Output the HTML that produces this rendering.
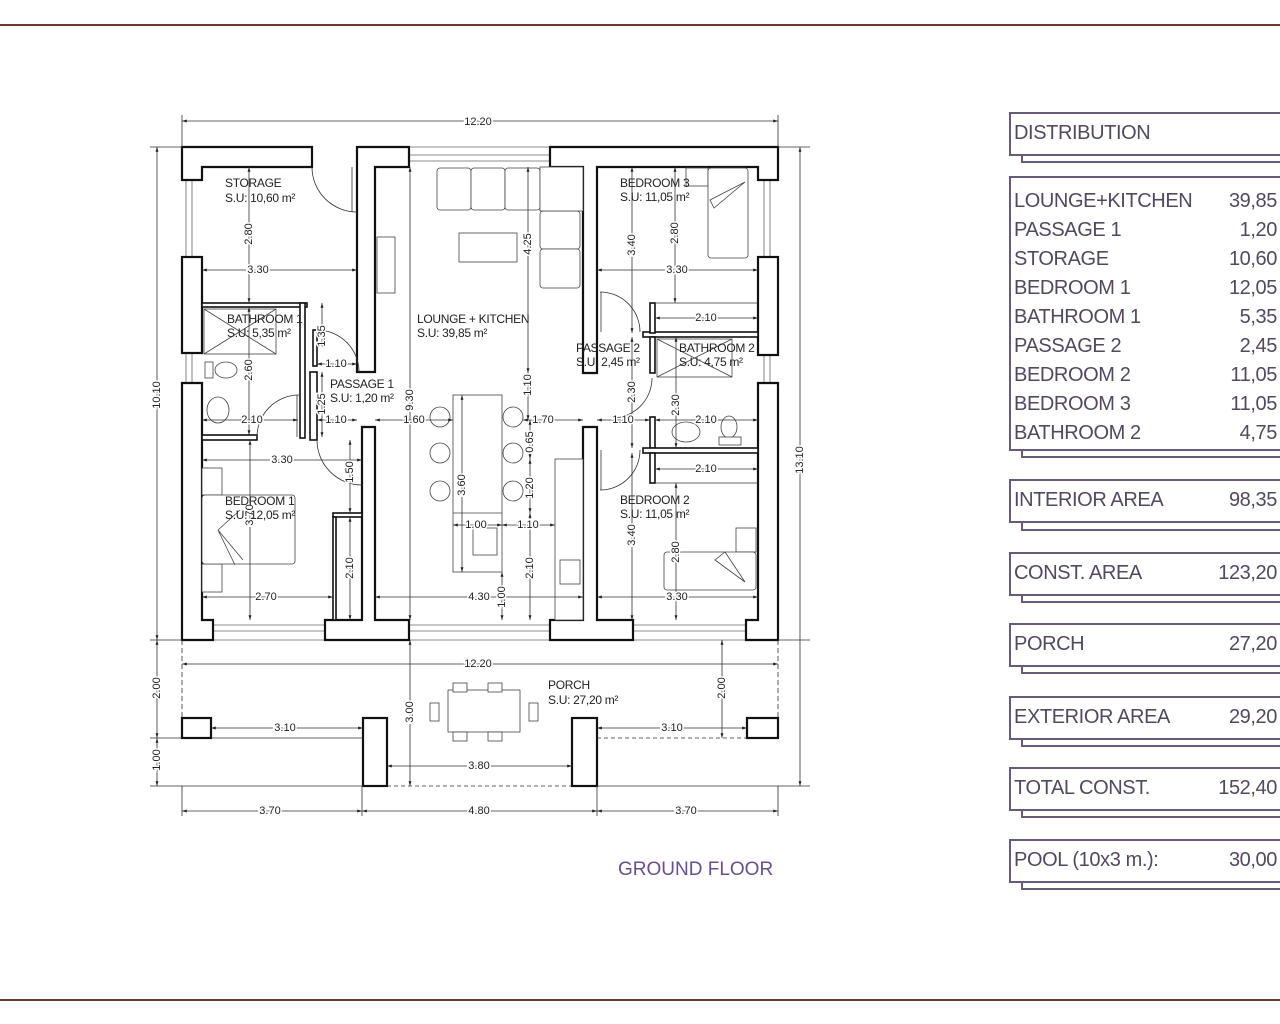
<!DOCTYPE html>
<html><head><meta charset="utf-8"><style>
html,body{margin:0;padding:0;background:#fff;}
svg{display:block;}
.w{fill:#fff;stroke:#111;stroke-width:2.2;}
.p{fill:#fff;stroke:#111;stroke-width:1.6;}
.d{stroke:#333;stroke-width:0.8;fill:none;}
.f{stroke:#444;stroke-width:0.8;fill:#fff;}
.win{stroke:#666;stroke-width:0.8;fill:none;}
.t{font-family:"Liberation Sans",sans-serif;font-size:11px;fill:#222;stroke:#fff;stroke-width:3px;paint-order:stroke;}
.r{font-family:"Liberation Sans",sans-serif;font-size:12px;fill:#222;letter-spacing:-0.3px;}
.tb{font-family:"Liberation Sans",sans-serif;font-size:20px;fill:#54485f;letter-spacing:-0.4px;}
.bx{fill:#fff;stroke:#6a5a7a;stroke-width:2;}
</style></head><body>
<svg width="1280" height="1024" viewBox="0 0 1280 1024" xmlns="http://www.w3.org/2000/svg">
<defs>
<marker id="a" viewBox="0 0 10 10" refX="10" refY="5" markerWidth="6" markerHeight="6" orient="auto-start-reverse"><path d="M0,2 L10,5 L0,8z" fill="#222"/></marker>
</defs>
<line x1="0" y1="25" x2="1280" y2="25" stroke="#6b3a30" stroke-width="2"/>
<line x1="0" y1="1000" x2="1280" y2="1000" stroke="#6b3a30" stroke-width="2"/>

<g class="win">
<line x1="186" y1="180" x2="186" y2="257"/><line x1="192" y1="180" x2="192" y2="257"/><line x1="182" y1="180" x2="202" y2="180"/>
<line x1="186" y1="353" x2="186" y2="383"/><line x1="192" y1="353" x2="192" y2="383"/>
<line x1="409" y1="155" x2="550" y2="155"/><line x1="409" y1="161" x2="550" y2="161"/><line x1="409" y1="147" x2="550" y2="147"/>
<line x1="764" y1="180" x2="764" y2="257"/><line x1="770" y1="180" x2="770" y2="257"/>
<line x1="764" y1="355" x2="764" y2="383"/><line x1="770" y1="355" x2="770" y2="383"/>
<line x1="213" y1="625" x2="325" y2="625"/><line x1="213" y1="631" x2="325" y2="631"/><line x1="213" y1="640" x2="325" y2="640"/>
<line x1="409" y1="625" x2="550" y2="625"/><line x1="409" y1="631" x2="550" y2="631"/><line x1="409" y1="640" x2="550" y2="640"/>
<line x1="633" y1="625" x2="746" y2="625"/><line x1="633" y1="631" x2="746" y2="631"/><line x1="633" y1="640" x2="746" y2="640"/>
</g>

<polygon class="w" points="182,147 312,147 312,167 202,167 202,180 182,180"/>
<rect class="w" x="182" y="257" width="20" height="96"/>
<polygon class="w" points="182,383 202,383 202,620 213,620 213,640 182,640"/>
<polygon class="w" points="357,147 409,147 409,167 375,167 375,372 357,372"/>
<polygon class="w" points="550,147 778,147 778,180 758,180 758,167 597,167 597,373 583,373 583,167 550,167"/>
<rect class="w" x="758" y="257" width="20" height="98"/>
<polygon class="w" points="758,383 778,383 778,640 746,640 746,620 758,620"/>
<polygon class="w" points="325,620 362,620 362,427 375,427 375,620 409,620 409,640 325,640"/>
<polygon class="w" points="550,620 583,620 583,427 597,427 597,620 633,620 633,640 550,640"/>

<rect class="p" x="202" y="303" width="105" height="4"/>
<rect class="p" x="300" y="303" width="5" height="135"/>
<rect class="p" x="202" y="435" width="55" height="5"/>
<rect class="p" x="310" y="372" width="7" height="68"/>
<rect class="p" x="313" y="330" width="4" height="36"/>
<rect class="p" x="333" y="513" width="29" height="4"/>
<rect class="p" x="333" y="517" width="3" height="103"/>
<rect class="p" x="643" y="332" width="115" height="5"/>
<rect class="p" x="650" y="303" width="5" height="30"/>
<rect class="p" x="650" y="337" width="5" height="36"/>
<rect class="p" x="650" y="417" width="5" height="31"/>
<rect class="p" x="643" y="448" width="115" height="5"/>
<rect class="p" x="650" y="453" width="5" height="30"/>
<line class="d" x1="655" y1="303" x2="758" y2="303"/>
<line class="d" x1="655" y1="483" x2="758" y2="483"/>

<g class="d">
<path d="M312,167 A45,45 0 0 0 357,212"/><line x1="352" y1="167" x2="352" y2="212"/>
<path d="M317,330 A42,42 0 0 1 359,372"/>
<path d="M257,437 A42,42 0 0 1 299,395"/><line x1="297" y1="395" x2="297" y2="437"/>
<path d="M317,440 A45,45 0 0 0 362,485"/>
<path d="M600,292 A40,40 0 0 1 640,332"/><line x1="601" y1="292" x2="601" y2="332"/>
<path d="M652,378 A40,40 0 0 1 612,418"/>
<path d="M640,450 A40,40 0 0 1 600,490"/><line x1="601" y1="450" x2="601" y2="490"/>
</g>

<g class="f">
<rect x="437" y="168" width="34" height="42" rx="3"/><rect x="471" y="168" width="34" height="42" rx="3"/><rect x="505" y="168" width="35" height="42" rx="3"/>
<rect x="540" y="211" width="40" height="38" rx="3"/><rect x="540" y="249" width="40" height="39" rx="3"/>
<rect x="540" y="167" width="43" height="44"/>
<rect x="459" y="233" width="58" height="29"/>
<rect x="377" y="237" width="18" height="56"/>
<rect x="453" y="395" width="49" height="177"/><line x1="453" y1="513" x2="502" y2="513"/>
<rect x="473" y="528" width="24" height="27"/>
<circle cx="440" cy="417" r="10"/><circle cx="440" cy="453" r="10"/><circle cx="440" cy="491" r="10"/>
<circle cx="513" cy="417" r="10"/><circle cx="513" cy="453" r="10"/><circle cx="513" cy="491" r="10"/>
<rect x="555" y="459" width="28" height="161"/><rect x="560" y="560" width="20" height="24"/>
<rect x="202" y="468" width="20" height="27"/><rect x="202" y="564" width="20" height="28"/>
<rect x="202" y="495" width="93" height="69" rx="3"/>
<path d="M218,530 L243,560 M218,530 L235,565 M218,530 L240,510"/>
<rect x="686" y="168" width="22" height="18"/><rect x="708" y="168" width="40" height="90" rx="3"/>
<path d="M710,200 L745,182 L714,208z"/>
<rect x="736" y="528" width="20" height="24"/><rect x="664" y="552" width="92" height="38" rx="3"/>
<path d="M715,560 L745,582 L725,552z"/>
<rect x="204" y="309" width="72" height="45"/><line x1="204" y1="309" x2="276" y2="354"/><line x1="276" y1="309" x2="204" y2="354"/>
<ellipse cx="226" cy="370" rx="11" ry="8"/><rect x="205" y="362" width="8" height="16"/>
<ellipse cx="218" cy="410" rx="11" ry="13"/>
<rect x="657" y="339" width="75" height="38"/><line x1="657" y1="377" x2="732" y2="339"/><line x1="657" y1="339" x2="732" y2="377"/>
<ellipse cx="686" cy="432" rx="14" ry="10"/><ellipse cx="729" cy="427" rx="8" ry="11"/><rect x="719" y="437" width="22" height="8"/>
<rect x="448" y="690" width="72" height="42"/>
<rect x="453" y="683" width="14" height="9"/><rect x="488" y="683" width="14" height="9"/>
<rect x="453" y="732" width="14" height="9"/><rect x="488" y="732" width="14" height="9"/>
<rect x="430" y="703" width="9" height="18"/><rect x="529" y="703" width="9" height="18"/>
</g>

<rect class="w" x="182" y="718" width="29" height="20"/>
<rect class="w" x="363" y="718" width="24" height="68"/>
<rect class="w" x="572" y="718" width="25" height="68"/>
<rect class="w" x="747" y="718" width="31" height="20"/>

<g class="d">
<line x1="182" y1="640" x2="182" y2="718" stroke-dasharray="5,3"/>
<line x1="778" y1="640" x2="778" y2="718" stroke-dasharray="5,3"/>
<line x1="150" y1="738" x2="182" y2="738"/><line x1="211" y1="738" x2="363" y2="738"/>
<line x1="597" y1="738" x2="747" y2="738" stroke-dasharray="4,3"/>
<line x1="150" y1="786" x2="363" y2="786"/><line x1="387" y1="786" x2="572" y2="786" stroke-dasharray="4,3"/><line x1="597" y1="786" x2="810" y2="786"/>
<line x1="150" y1="640" x2="182" y2="640"/><line x1="778" y1="640" x2="810" y2="640"/>
<line x1="150" y1="147" x2="182" y2="147"/><line x1="778" y1="147" x2="810" y2="147"/>
<line x1="182" y1="115" x2="182" y2="147"/><line x1="778" y1="115" x2="778" y2="147"/>
<line x1="182" y1="786" x2="182" y2="816"/><line x1="362" y1="786" x2="362" y2="816"/><line x1="597" y1="786" x2="597" y2="816"/><line x1="778" y1="786" x2="778" y2="816"/>
</g>

<g class="d" marker-start="url(#a)" marker-end="url(#a)">
<line x1="182" y1="121" x2="778" y2="121"/>
<line x1="157" y1="147" x2="157" y2="640"/>
<line x1="157" y1="640" x2="157" y2="738"/>
<line x1="157" y1="738" x2="157" y2="786"/>
<line x1="800" y1="147" x2="800" y2="786"/>
<line x1="182" y1="664" x2="778" y2="664"/>
<line x1="211" y1="728" x2="363" y2="728"/>
<line x1="597" y1="728" x2="747" y2="728"/>
<line x1="387" y1="766" x2="572" y2="766"/>
<line x1="410" y1="640" x2="410" y2="786"/>
<line x1="722" y1="640" x2="722" y2="738"/>
<line x1="182" y1="811" x2="362" y2="811"/>
<line x1="362" y1="811" x2="597" y2="811"/>
<line x1="597" y1="811" x2="778" y2="811"/>
<line x1="249" y1="167" x2="249" y2="303"/>
<line x1="202" y1="270" x2="357" y2="270"/>
<line x1="249" y1="307" x2="249" y2="435"/>
<line x1="202" y1="420" x2="298" y2="420"/>
<line x1="322" y1="303" x2="322" y2="347"/>
<line x1="317" y1="364" x2="357" y2="364"/>
<line x1="322" y1="372" x2="322" y2="437"/>
<line x1="317" y1="420" x2="357" y2="420"/>
<line x1="375" y1="420" x2="453" y2="420"/>
<line x1="410" y1="167" x2="410" y2="620"/>
<line x1="523" y1="420" x2="583" y2="420"/>
<line x1="528" y1="167" x2="528" y2="373"/>
<line x1="528" y1="373" x2="528" y2="420"/>
<line x1="530" y1="420" x2="530" y2="459"/>
<line x1="530" y1="459" x2="530" y2="513"/>
<line x1="530" y1="513" x2="530" y2="620"/>
<line x1="502" y1="572" x2="502" y2="620"/>
<line x1="453" y1="525" x2="502" y2="525"/>
<line x1="502" y1="525" x2="555" y2="525"/>
<line x1="462" y1="395" x2="462" y2="572"/>
<line x1="375" y1="597" x2="583" y2="597"/>
<line x1="202" y1="460" x2="362" y2="460"/>
<line x1="250" y1="440" x2="250" y2="620"/>
<line x1="202" y1="597" x2="333" y2="597"/>
<line x1="350" y1="440" x2="350" y2="513"/>
<line x1="350" y1="517" x2="350" y2="620"/>
<line x1="632" y1="167" x2="632" y2="333"/>
<line x1="675" y1="167" x2="675" y2="303"/>
<line x1="597" y1="270" x2="758" y2="270"/>
<line x1="655" y1="318" x2="758" y2="318"/>
<line x1="632" y1="337" x2="632" y2="448"/>
<line x1="597" y1="420" x2="650" y2="420"/>
<line x1="676" y1="337" x2="676" y2="448"/>
<line x1="655" y1="420" x2="758" y2="420"/>
<line x1="655" y1="469" x2="758" y2="469"/>
<line x1="632" y1="453" x2="632" y2="620"/>
<line x1="676" y1="483" x2="676" y2="620"/>
<line x1="597" y1="597" x2="758" y2="597"/>
</g>

<g class="t" text-anchor="middle" dominant-baseline="middle">
<text x="478" y="122">12.20</text>
<text transform="translate(157,395) rotate(-90)">10.10</text>
<text transform="translate(157,688) rotate(-90)">2.00</text>
<text transform="translate(157,760) rotate(-90)">1.00</text>
<text transform="translate(800,460) rotate(-90)">13.10</text>
<text x="478" y="664">12.20</text>
<text x="285" y="728">3.10</text>
<text x="672" y="728">3.10</text>
<text x="479" y="766">3.80</text>
<text transform="translate(410,712) rotate(-90)">3.00</text>
<text transform="translate(722,688) rotate(-90)">2.00</text>
<text x="270" y="811">3.70</text>
<text x="479" y="811">4.80</text>
<text x="686" y="811">3.70</text>
<text transform="translate(249,234) rotate(-90)">2.80</text>
<text x="258" y="270">3.30</text>
<text transform="translate(249,370) rotate(-90)">2.60</text>
<text x="252" y="420">2.10</text>
<text transform="translate(322,336) rotate(-90)">1.35</text>
<text x="336" y="364">1.10</text>
<text transform="translate(322,404) rotate(-90)">1.25</text>
<text x="336" y="420">1.10</text>
<text x="414" y="420">1.60</text>
<text transform="translate(410,400) rotate(-90)">9.30</text>
<text x="543" y="420">1.70</text>
<text transform="translate(528,244) rotate(-90)">4.25</text>
<text transform="translate(528,385) rotate(-90)">1.10</text>
<text transform="translate(530,442) rotate(-90)">0.65</text>
<text transform="translate(530,488) rotate(-90)">1.20</text>
<text transform="translate(530,568) rotate(-90)">2.10</text>
<text transform="translate(502,597) rotate(-90)">1.00</text>
<text x="476" y="525">1.00</text>
<text x="528" y="525">1.10</text>
<text transform="translate(462,485) rotate(-90)">3.60</text>
<text x="479" y="597">4.30</text>
<text x="282" y="460">3.30</text>
<text transform="translate(250,515) rotate(-90)">3.70</text>
<text x="266" y="597">2.70</text>
<text transform="translate(350,472) rotate(-90)">1.50</text>
<text transform="translate(350,568) rotate(-90)">2.10</text>
<text transform="translate(632,245) rotate(-90)">3.40</text>
<text transform="translate(675,233) rotate(-90)">2.80</text>
<text x="677" y="270">3.30</text>
<text x="706" y="318">2.10</text>
<text transform="translate(632,392) rotate(-90)">2.30</text>
<text x="623" y="420">1.10</text>
<text transform="translate(676,405) rotate(-90)">2.30</text>
<text x="706" y="420">2.10</text>
<text x="706" y="469">2.10</text>
<text transform="translate(632,535) rotate(-90)">3.40</text>
<text transform="translate(676,552) rotate(-90)">2.80</text>
<text x="677" y="597">3.30</text>
</g>

<g class="r">
<text x="225" y="187">STORAGE</text><text x="225" y="202">S.U: 10,60 m²</text>
<text x="227" y="323">BATHROOM 1</text><text x="227" y="337">S.U: 5,35 m²</text>
<text x="330" y="388">PASSAGE 1</text><text x="330" y="402">S.U: 1,20 m²</text>
<text x="417" y="323">LOUNGE + KITCHEN</text><text x="417" y="337">S.U: 39,85 m²</text>
<text x="225" y="505">BEDROOM 1</text><text x="225" y="519">S.U: 12,05 m²</text>
<text x="620" y="187">BEDROOM 3</text><text x="620" y="201">S.U: 11,05 m²</text>
<text x="576" y="352">PASSAGE 2</text><text x="576" y="366">S.U: 2,45 m²</text>
<text x="679" y="352">BATHROOM 2</text><text x="679" y="366">S.U: 4,75 m²</text>
<text x="620" y="504">BEDROOM 2</text><text x="620" y="518">S.U: 11,05 m²</text>
<text x="548" y="689">PORCH</text><text x="548" y="704">S.U: 27,20 m²</text>
</g>
<text x="618" y="875" font-family="Liberation Sans, sans-serif" font-size="19" fill="#6a4f8a">GROUND FLOOR</text>

<g>
<rect class="bx" x="1022" y="120" width="270" height="42"/><rect class="bx" x="1010" y="113" width="280" height="42"/>
<rect class="bx" x="1022" y="184" width="270" height="273"/><rect class="bx" x="1010" y="177" width="280" height="273"/>
<rect class="bx" x="1022" y="488" width="270" height="42"/><rect class="bx" x="1010" y="480" width="280" height="42"/>
<rect class="bx" x="1022" y="560" width="270" height="42"/><rect class="bx" x="1010" y="553" width="280" height="42"/>
<rect class="bx" x="1022" y="631" width="270" height="42"/><rect class="bx" x="1010" y="624" width="280" height="42"/>
<rect class="bx" x="1022" y="704" width="270" height="42"/><rect class="bx" x="1010" y="697" width="280" height="42"/>
<rect class="bx" x="1022" y="775" width="270" height="42"/><rect class="bx" x="1010" y="768" width="280" height="42"/>
<rect class="bx" x="1022" y="847" width="270" height="42"/><rect class="bx" x="1010" y="840" width="280" height="42"/>
</g>
<g class="tb">
<text x="1014" y="139">DISTRIBUTION</text>
<text x="1014" y="207">LOUNGE+KITCHEN</text>
<text x="1014" y="236">PASSAGE 1</text>
<text x="1014" y="265">STORAGE</text>
<text x="1014" y="294">BEDROOM 1</text>
<text x="1014" y="323">BATHROOM 1</text>
<text x="1014" y="352">PASSAGE 2</text>
<text x="1014" y="381">BEDROOM 2</text>
<text x="1014" y="410">BEDROOM 3</text>
<text x="1014" y="439">BATHROOM 2</text>
<text x="1014" y="506">INTERIOR AREA</text>
<text x="1014" y="579">CONST. AREA</text>
<text x="1014" y="650">PORCH</text>
<text x="1014" y="723">EXTERIOR AREA</text>
<text x="1014" y="794">TOTAL CONST.</text>
<text x="1014" y="866">POOL (10x3 m.):</text>
</g>
<g class="tb" text-anchor="end">
<text x="1277" y="207">39,85</text>
<text x="1277" y="236">1,20</text>
<text x="1277" y="265">10,60</text>
<text x="1277" y="294">12,05</text>
<text x="1277" y="323">5,35</text>
<text x="1277" y="352">2,45</text>
<text x="1277" y="381">11,05</text>
<text x="1277" y="410">11,05</text>
<text x="1277" y="439">4,75</text>
<text x="1277" y="506">98,35</text>
<text x="1277" y="579">123,20</text>
<text x="1277" y="650">27,20</text>
<text x="1277" y="723">29,20</text>
<text x="1277" y="794">152,40</text>
<text x="1277" y="866">30,00</text>
</g>
</svg>
</body></html>
